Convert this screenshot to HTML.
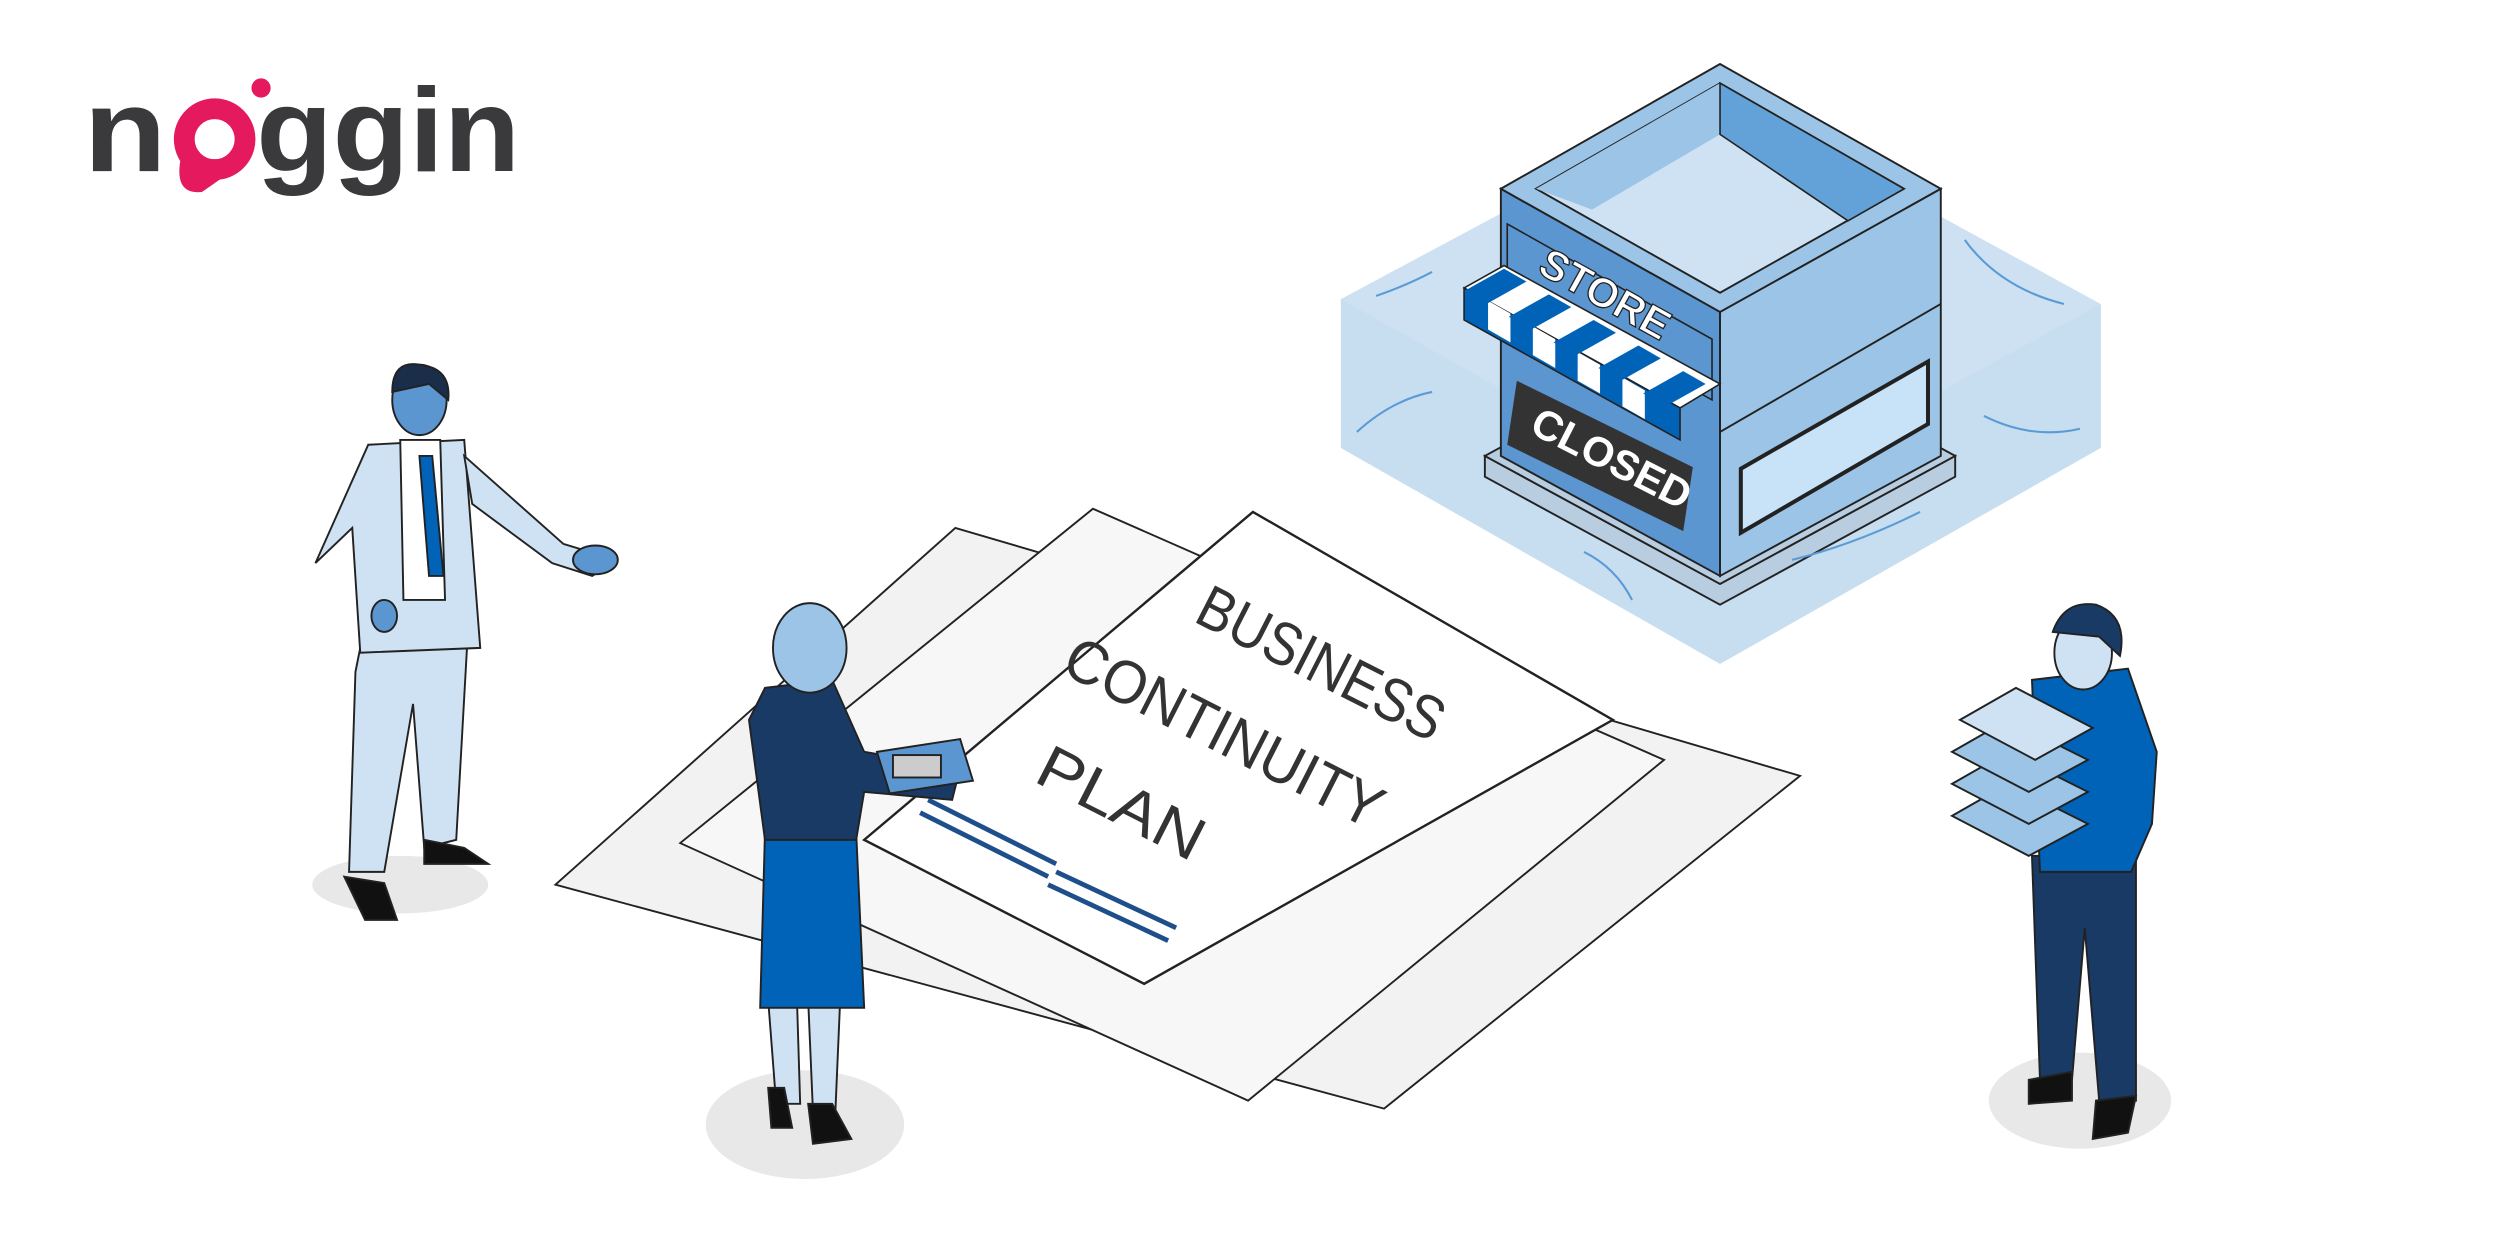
<!DOCTYPE html>
<html><head><meta charset="utf-8"><style>
html,body{margin:0;padding:0;background:#fff;}
svg{display:block}
</style></head><body>
<svg width="2501" height="1251" viewBox="0 0 1563 782" xmlns="http://www.w3.org/2000/svg" font-family="Liberation Sans, sans-serif">
<rect width="1563" height="782" fill="#fff"/>
<!-- logo -->
<text x="52" y="107" font-size="74" font-weight="bold" fill="#3a3a3c" textLength="52" lengthAdjust="spacingAndGlyphs">n</text>
<circle cx="134" cy="87" r="19" fill="none" stroke="#e5195e" stroke-width="13"/>
<path d="M113 98 Q108 122 126 120 Q138 112 148 104 Z" fill="#e5195e"/>
<circle cx="163" cy="55" r="6" fill="#e5195e"/>
<text x="160" y="107" font-size="74" font-weight="bold" fill="#3a3a3c" textLength="165" lengthAdjust="spacingAndGlyphs">ggin</text>

<!-- water box -->
<polygon points="838,187 1075,60 1313,190 1313,280 1075,415 838,280" fill="#cde1f2"/>
<polygon points="838,187 1075,320 1313,190 1313,280 1075,415 838,280" fill="#c5dcf0" opacity="0.7"/>
<!-- store base -->
<polygon points="928,285 1075,365 1222,285 1222,298 1075,378 928,298" fill="#b9cde0" stroke="#222" stroke-width="1.2"/>
<polygon points="928,285 1075,205 1222,285 1075,365" fill="#b9cde0" stroke="#222" stroke-width="1.2"/>
<!-- building faces -->
<polygon points="938,118 1075,195 1075,360 938,285" fill="#5b96d0" stroke="#222" stroke-width="1.2"/>
<polygon points="1075,195 1213,118 1213,285 1075,360" fill="#9cc4e6" stroke="#222" stroke-width="1.2"/>
<polygon points="938,118 1075,40 1213,118 1075,195" fill="#9cc4e6" stroke="#222" stroke-width="1.2"/>
<polygon points="960,118 1075,52 1190,118 1075,183" fill="#cfe2f3" stroke="#222" stroke-width="1.2"/>
<polygon points="960,118 1075,52 1075,84 995,131" fill="#9cc4e6"/>
<polygon points="1075,52 1190,118 1155,138 1075,84" fill="#63a2d8" stroke="#222" stroke-width="1"/>
<line x1="1075" y1="270" x2="1213" y2="190" stroke="#222" stroke-width="1.2"/>
<!-- store sign band -->
<polygon points="942,140 1070,212 1070,250 942,178" fill="#5b96d0" stroke="#222" stroke-width="1"/>
<text x="960" y="170" font-size="26" font-weight="bold" fill="#fff" stroke="#222" stroke-width="0.8" transform="rotate(29 960 170)">STORE</text>
<!-- right window -->
<polygon points="1088,293 1205,226 1205,265 1088,333" fill="#c8e3f7" stroke="#222" stroke-width="2.5"/>
<!-- awning -->
<g stroke="#222" stroke-width="1">
<polygon points="915,180 940,166 1075,240 1050,255" fill="#fff"/>
<polygon points="915,180 1050,255 1050,275 915,200" fill="#0063b8"/>
</g>
<g fill="#fff">
<polygon points="930,188 944,196 944,214 930,206"/><polygon points="958,204 972,212 972,230 958,222"/>
<polygon points="986,220 1000,228 1000,246 986,238"/><polygon points="1014,236 1028,244 1028,262 1014,254"/>
</g>
<g fill="#0063b8"><polygon points="940,168 954,176 929,190 915,182"/><polygon points="968,184 982,192 957,206 943,198"/><polygon points="996,200 1010,208 985,222 971,214"/><polygon points="1024,216 1038,224 1013,238 999,230"/><polygon points="1052,232 1066,240 1041,254 1027,246"/></g>
<!-- closed sign -->
<polygon points="948,238 1058,292 1052,332 942,278" fill="#333"/>
<text x="955" y="270" font-size="26" font-weight="bold" fill="#fff" transform="rotate(27 955 270)">CLOSED</text>
<!-- water waves -->
<g fill="none" stroke="#5b9bd5" stroke-width="1.3">
<path d="M848 270 Q870 250 895 245"/><path d="M860 185 Q880 178 895 170"/><path d="M1228 150 Q1250 180 1290 190"/><path d="M1240 260 Q1270 275 1300 268"/><path d="M990 345 Q1010 355 1020 375"/><path d="M1120 350 Q1160 340 1200 320"/>
</g>

<!-- papers -->
<polygon points="347,553 597,330 1125,485 865,693 " fill="#f2f2f2" stroke="#222" stroke-width="1.2"/>
<polygon points="425,527 683,318 1040,475 780,688" fill="#f7f7f7" stroke="#222" stroke-width="1.2"/>
<polygon points="540,525 783,320 1008,450 715,615" fill="#fff" stroke="#222" stroke-width="1.5"/>
<g font-size="38" fill="#333" font-family="Liberation Sans Narrow, Liberation Sans, sans-serif">
<text transform="translate(745,388) rotate(27)" textLength="168" lengthAdjust="spacingAndGlyphs">BUSINESS</text>
<text transform="translate(662,420) rotate(27)" textLength="218" lengthAdjust="spacingAndGlyphs">CONTINUITY</text>
<text transform="translate(645,488) rotate(27)" textLength="112" lengthAdjust="spacingAndGlyphs">PLAN</text>
</g>
<g stroke="#1f4f8a" stroke-width="3"><line x1="580" y1="500" x2="660" y2="540"/><line x1="575" y1="508" x2="655" y2="548"/><line x1="660" y1="545" x2="735" y2="580"/><line x1="655" y1="553" x2="730" y2="588"/></g>

<!-- shadows -->
<ellipse cx="250" cy="553" rx="55" ry="18" fill="#e8e8e8"/>
<ellipse cx="503" cy="703" rx="62" ry="34" fill="#e8e8e8"/>
<ellipse cx="1300" cy="688" rx="57" ry="30" fill="#e8e8e8"/>

<!-- man left -->
<g stroke="#222" stroke-width="1.2">
<polygon points="228,390 262,395 292,400 285,525 265,530 258,440 240,545 218,545 222,420" fill="#cfe2f3"/>
<polygon points="230,278 290,275 300,405 225,408 220,330 197,352" fill="#cfe2f3"/>
<polygon points="290,285 352,340 385,350 370,360 345,352 295,315" fill="#cfe2f3"/>
<polygon points="250,275 275,275 278,375 252,375" fill="#fff"/>
<polygon points="262,285 270,285 277,360 268,360" fill="#0063b8"/>
<ellipse cx="262" cy="250" rx="17" ry="22" fill="#5b96d0"/>
<path d="M245 245 Q245 225 262 228 Q282 230 280 250 L268 240 Z" fill="#1a2e4a"/>
<ellipse cx="372" cy="350" rx="14" ry="9" fill="#5b96d0"/>
<ellipse cx="240" cy="385" rx="8" ry="10" fill="#5b96d0"/>
<path d="M215 548 L240 552 L248 575 L228 575 Z" fill="#111"/>
<path d="M265 525 L290 530 L305 540 L265 540 Z" fill="#111"/>
</g>

<!-- woman -->
<g stroke="#222" stroke-width="1.2">
<polygon points="480,625 498,625 500,690 485,690" fill="#cfe2f3"/>
<polygon points="505,625 525,625 522,695 508,695" fill="#cfe2f3"/>
<polygon points="478,520 535,520 540,630 475,630" fill="#0063b8"/>
<polygon points="478,430 520,425 540,470 600,480 595,500 540,495 535,525 478,525 468,450" fill="#1a3a66"/>
<ellipse cx="506" cy="405" rx="23" ry="28" fill="#9cc4e6"/>
<polygon points="548,470 600,462 608,488 556,496" fill="#5b96d0"/>
<rect x="558" y="472" width="30" height="14" fill="#ccc"/>
<path d="M480 680 L490 680 L495 705 L482 705 Z" fill="#111"/>
<path d="M505 690 L520 690 L532 712 L508 715 Z" fill="#111"/>
</g>

<!-- man right -->
<g stroke="#222" stroke-width="1.2">
<polygon points="1270,535 1335,535 1335,688 1312,688 1303,580 1295,675 1275,675" fill="#1a3a66"/>
<polygon points="1270,425 1330,418 1348,470 1345,515 1332,545 1275,545" fill="#0063b8"/>
<ellipse cx="1302" cy="408" rx="18" ry="23" fill="#cfe2f3"/>
<path d="M1283 395 Q1290 375 1310 378 Q1330 385 1325 410 L1312 398 Z" fill="#1a3a66"/>
<path d="M1268 675 L1295 670 L1295 688 L1268 690 Z" fill="#111"/>
<path d="M1310 688 L1335 685 L1330 708 L1308 712 Z" fill="#111"/>
</g>
<g stroke="#222" stroke-width="1.2" fill="#9cc4e6">
<polygon points="1220,510 1255,490 1305,515 1268,535"/>
<polygon points="1220,490 1255,470 1305,495 1268,515"/>
<polygon points="1220,470 1255,450 1305,475 1268,495"/>
<polygon points="1225,450 1260,430 1308,455 1272,475" fill="#cfe2f3"/>
</g>
</svg>
</body></html>
